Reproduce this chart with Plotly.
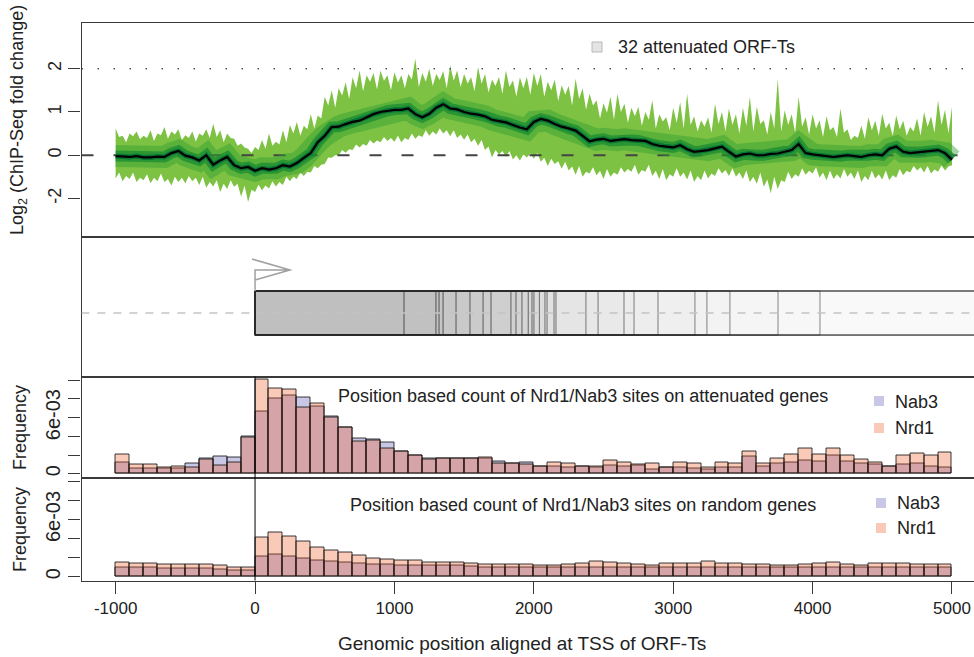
import plotly.graph_objects as go

# ---------------- data ----------------
# ChIP-Seq median profile over 32 attenuated ORF-Ts, every 50 bp
positions = list(range(-1000, 5001, 50))

median_fc = [
    -0.02, -0.03, -0.04, -0.02, -0.05, -0.05, -0.03, -0.04, 0.05, 0.10,
    -0.01, -0.05, -0.12, 0.00, -0.22, -0.12, -0.04, -0.23, -0.30, -0.27,
    -0.36, -0.30, -0.33, -0.30, -0.23, -0.26, -0.18, -0.06, 0.05, 0.30,
    0.45, 0.65, 0.66, 0.72, 0.77, 0.80, 0.88, 0.95, 1.00, 1.03,
    1.05, 1.05, 1.08, 0.95, 0.88, 0.96, 1.10, 1.18, 1.08, 1.06,
    1.00, 0.96, 0.94, 0.90, 0.82, 0.79, 0.76, 0.70, 0.64, 0.60,
    0.77, 0.84, 0.80, 0.72, 0.66, 0.62, 0.57, 0.45, 0.32, 0.36,
    0.38, 0.33, 0.35, 0.37, 0.35, 0.34, 0.33, 0.26, 0.22, 0.20,
    0.18, 0.23, 0.14, 0.08, 0.10, 0.12, 0.16, 0.20, 0.08, -0.03,
    0.02, 0.04, 0.00, 0.00, 0.03, 0.04, 0.08, 0.12, 0.26, 0.05,
    0.02, 0.00, -0.02, -0.04, -0.02, 0.00, -0.02, -0.04, 0.00, 0.02,
    0.00, 0.15, 0.20, 0.08, 0.05, 0.07, 0.08, 0.10, 0.12, 0.05,
    -0.10,
]

# outer envelope of the per-gene spread, every 25 bp
band_positions = list(range(-1000, 5001, 25))

band_upper = [
    0.62, 0.42, 0.45, 0.30, 0.50, 0.44, 0.55, 0.37, 0.45, 0.40,
    0.58, 0.33, 0.50, 0.46, 0.65, 0.38, 0.55, 0.48, 0.60, 0.35,
    0.46, 0.40, 0.55, 0.32, 0.50, 0.45, 0.60, 0.40, 0.73, 0.42,
    0.58, 0.30, 0.50, 0.40, 0.38, 0.22, 0.27, 0.18, 0.15, 0.05,
    0.19, 0.12, 0.35, 0.15, 0.50, 0.22, 0.31, 0.25, 0.58, 0.30,
    0.70, 0.50, 0.77, 0.45, 0.68, 0.60, 0.95, 0.62, 0.92, 0.85,
    1.35, 1.15, 1.50, 1.10, 1.55, 1.38, 1.69, 1.30, 1.80, 1.55,
    1.96, 1.48, 1.85, 1.70, 1.90, 1.52, 1.96, 1.72, 1.85, 1.50,
    1.92, 1.68, 1.85, 1.55, 1.88, 1.75, 2.23, 1.58, 1.90, 1.70,
    2.00, 1.60, 1.88, 1.74, 1.95, 1.55, 2.08, 1.72, 1.96, 1.58,
    1.88, 1.66, 1.80, 1.48, 2.04, 1.65, 1.88, 1.45, 1.75, 1.60,
    1.81, 1.42, 1.96, 1.58, 1.73, 1.36, 1.80, 1.55, 1.81, 1.40,
    1.90, 1.60, 1.88, 1.35, 1.70, 1.50, 1.75, 1.25, 1.62, 1.40,
    1.60, 1.15, 1.77, 1.30, 1.55, 1.05, 1.42, 1.15, 1.27, 0.85,
    1.20, 0.98, 1.35, 0.82, 1.42, 1.00, 1.19, 0.75, 1.10, 0.90,
    1.12, 0.68, 1.00, 0.82, 1.27, 0.62, 0.95, 0.78, 0.88, 0.58,
    1.10, 0.75, 1.23, 0.62, 1.42, 0.70, 0.90, 0.55, 0.81, 0.66,
    0.88, 0.52, 1.19, 0.72, 1.00, 0.55, 1.08, 0.70, 0.95, 0.50,
    1.10, 0.68, 1.35, 0.55, 1.12, 0.72, 0.81, 0.48, 1.00, 0.62,
    1.77, 0.55, 1.04, 0.70, 0.95, 0.52, 1.35, 0.66, 0.88, 0.48,
    0.95, 0.62, 0.81, 0.42, 0.90, 0.58, 0.65, 0.42, 1.08, 0.52,
    0.60, 0.35, 0.45, 0.40, 0.69, 0.38, 0.88, 0.58, 0.80, 0.45,
    0.96, 0.62, 0.75, 0.45, 0.92, 0.60, 0.80, 0.45, 0.65, 0.55,
    0.85, 0.45, 1.00, 0.66, 0.90, 0.52, 1.27, 0.70, 1.05, 0.50,
    1.12,
]

band_lower = [
    -0.54, -0.40, -0.60, -0.48, -0.55, -0.40, -0.62, -0.52, -0.58, -0.44,
    -0.65, -0.52, -0.60, -0.42, -0.62, -0.55, -0.70, -0.50, -0.62, -0.52,
    -0.65, -0.48, -0.60, -0.52, -0.69, -0.50, -0.75, -0.62, -0.72, -0.58,
    -0.85, -0.66, -0.78, -0.58, -0.73, -0.66, -0.96, -0.70, -1.08, -0.80,
    -0.85, -0.68, -0.81, -0.70, -0.77, -0.60, -0.72, -0.62, -0.69, -0.50,
    -0.60, -0.50, -0.55, -0.40, -0.48, -0.38, -0.40, -0.25, -0.30, -0.22,
    -0.20, -0.05, -0.06, 0.00, 0.00, 0.12, 0.06, 0.14, 0.12, 0.25,
    0.18, 0.26, 0.22, 0.35, 0.27, 0.34, 0.30, 0.42, 0.33, 0.40,
    0.31, 0.45, 0.30, 0.40, 0.35, 0.50, 0.38, 0.46, 0.42, 0.58,
    0.45, 0.55, 0.48, 0.62, 0.50, 0.58, 0.44, 0.58, 0.40, 0.48,
    0.36, 0.48, 0.30, 0.38, 0.22, 0.35, 0.12, 0.20, -0.05, 0.12,
    0.02, 0.10, -0.04, 0.10, -0.10, 0.00, -0.12, 0.02, -0.05, 0.04,
    -0.08, 0.05, -0.15, -0.06, -0.25, -0.08, -0.20, -0.14, -0.31, -0.15,
    -0.35, -0.26, -0.45, -0.25, -0.50, -0.38, -0.42, -0.28, -0.46, -0.36,
    -0.55, -0.32, -0.50, -0.40, -0.45, -0.28, -0.40, -0.32, -0.38, -0.22,
    -0.45, -0.34, -0.38, -0.22, -0.48, -0.36, -0.55, -0.32, -0.58, -0.44,
    -0.50, -0.30, -0.50, -0.40, -0.56, -0.35, -0.62, -0.48, -0.58, -0.35,
    -0.54, -0.42, -0.48, -0.30, -0.42, -0.34, -0.48, -0.30, -0.50, -0.40,
    -0.55, -0.35, -0.62, -0.50, -0.66, -0.40, -0.73, -0.56, -0.88, -0.50,
    -0.78, -0.58, -0.62, -0.38, -0.55, -0.44, -0.50, -0.30, -0.45, -0.36,
    -0.42, -0.28, -0.52, -0.40, -0.58, -0.35, -0.55, -0.44, -0.54, -0.32,
    -0.50, -0.40, -0.55, -0.35, -0.62, -0.48, -0.58, -0.36, -0.54, -0.44,
    -0.56, -0.35, -0.58, -0.46, -0.52, -0.32, -0.46, -0.36, -0.40, -0.25,
    -0.35, -0.28, -0.40, -0.25, -0.42, -0.33, -0.38, -0.24, -0.35, -0.26,
    -0.23,
]

# ORF-T end positions (bp from TSS) of the 32 attenuated transcripts
orf_t_ends = [
    1069, 1298, 1320, 1349, 1442, 1542, 1636, 1693, 1836, 1872, 1915,
    1960, 1987, 2001, 2040, 2080, 2095, 2145, 2159, 2374, 2461, 2647,
    2719, 2891, 3156, 3242, 3407, 3752, 4053, 5300, 5600, 6100,
]

# Nrd1 / Nab3 site frequencies in 100 bp bins (units of 1e-3)
bin_starts = list(range(-1000, 5000, 100))
bin_width = 100
freq_unit = 1e-3

att_nab3 = [
    1.20, 0.60, 0.60, 0.60, 0.60, 1.15, 1.60, 1.80, 1.70, 4.00,
    6.70, 8.10, 8.40, 8.20, 7.20, 6.10, 5.00, 3.80, 3.65, 3.30,
    2.40, 2.00, 1.60, 1.60, 1.60, 1.60, 1.65, 1.30, 1.10, 1.25,
    0.80, 0.80, 0.70, 0.75, 0.70, 0.90, 0.80, 0.90, 0.43, 0.70,
    0.70, 0.60, 0.43, 0.70, 0.70, 1.80, 0.80, 1.07, 1.25, 1.40,
    1.30, 1.90, 1.30, 1.07, 1.00, 0.80, 1.00, 1.15, 0.80, 0.70,
]
att_nrd1 = [
    2.10, 1.00, 1.00, 0.70, 0.80, 0.70, 1.50, 0.85, 1.20, 3.90,
    10.10, 9.10, 9.00, 7.10, 7.50, 6.00, 4.95, 3.50, 3.60, 2.75,
    2.35, 1.95, 1.55, 1.60, 1.65, 1.60, 1.70, 1.10, 1.10, 1.00,
    0.80, 1.25, 1.05, 0.80, 0.75, 1.40, 1.25, 1.00, 1.07, 0.70,
    1.20, 1.15, 0.70, 1.20, 1.15, 2.40, 1.07, 1.60, 2.10, 2.65,
    2.10, 2.75, 2.00, 1.50, 1.20, 0.80, 1.90, 2.20, 2.00, 2.30,
]
rnd_nab3 = [
    0.95, 0.95, 0.95, 0.87, 0.87, 0.87, 0.87, 0.80, 0.70, 0.70,
    2.15, 2.35, 2.10, 1.90, 1.75, 1.55, 1.50, 1.35, 1.30, 1.30,
    1.20, 1.20, 1.15, 1.15, 1.15, 1.10, 1.00, 1.00, 0.95, 0.95,
    0.95, 0.95, 0.95, 0.97, 1.00, 1.00, 0.97, 0.95, 0.95, 0.95,
    0.97, 0.97, 1.00, 0.95, 0.95, 0.95, 0.95, 0.93, 0.93, 0.95,
    0.97, 0.97, 0.95, 0.93, 0.95, 0.95, 0.95, 0.95, 0.95, 0.95,
]
rnd_nrd1 = [
    1.50, 1.40, 1.40, 1.30, 1.30, 1.30, 1.30, 1.20, 1.00, 0.95,
    4.10, 4.60, 4.20, 3.65, 3.10, 2.75, 2.50, 2.20, 1.95, 1.80,
    1.65, 1.65, 1.45, 1.50, 1.45, 1.40, 1.30, 1.30, 1.30, 1.30,
    1.22, 1.22, 1.32, 1.39, 1.57, 1.50, 1.39, 1.29, 1.22, 1.39,
    1.39, 1.39, 1.57, 1.36, 1.36, 1.29, 1.29, 1.22, 1.22, 1.29,
    1.39, 1.46, 1.32, 1.22, 1.36, 1.36, 1.36, 1.32, 1.29, 1.29,
]

# tick labels
fc_tick_vals = [2, 1, 0, -1]
fc_tick_text = ["2", "1", "0", "-2"]
freq_tick_vals = [0, 0.006]
freq_tick_text = ["0", "6e-03"]
freq_minor_vals = [0.002, 0.004, 0.008, 0.010]
x_tick_vals = [-1000, 0, 1000, 2000, 3000, 4000, 5000]
x_tick_text = ["-1000", "0", "1000", "2000", "3000", "4000", "5000"]

# ---------------- layout helpers ----------------
W, H = 974, 657
FONT = "Liberation Sans, Arial, Helvetica, sans-serif"
INK = "#222222"
FRAME = "#3a3a3a"


def fx(p):
    return p / W


def fy(p):
    return 1 - p / H


X_DOM = [fx(81.5), 1.0]
X_RANGE = [-1245, 5158]
D_TOP = [fy(237), fy(23.3)]
D_MID = [fy(376.5), fy(237)]
D_H1 = [fy(477.5), fy(376.5)]
D_H2 = [fy(580.5), fy(477.5)]
FREQ_RANGE = [-0.0004, 0.0104]
TSS = 0

fig = go.Figure()

# ---------------- top panel: fold-change band ----------------
fig.add_trace(go.Scatter(
    x=band_positions + band_positions[::-1], y=band_upper + band_lower[::-1],
    fill="toself", fillcolor="#7dc243", line=dict(width=0),
    mode="lines", hoverinfo="skip", showlegend=False, xaxis="x", yaxis="y"))
fig.add_trace(go.Scatter(
    x=X_RANGE, y=[0, 0], mode="lines",
    line=dict(color="#444444", width=2, dash="12px,20px"),
    hoverinfo="skip", showlegend=False, xaxis="x", yaxis="y"))
fig.add_trace(go.Scatter(
    x=X_RANGE, y=[2, 2], mode="lines",
    line=dict(color="#555555", width=1.6, dash="1.5px,14.5px"),
    hoverinfo="skip", showlegend=False, xaxis="x", yaxis="y"))
for color, width in [("rgba(50,160,50,0.45)", 22), ("rgba(25,140,50,0.75)", 11), ("#0a7634", 5)]:
    fig.add_trace(go.Scatter(
        x=positions, y=median_fc, mode="lines",
        line=dict(color=color, width=width),
        hoverinfo="skip", showlegend=False, xaxis="x", yaxis="y"))
fig.add_trace(go.Scatter(
    x=positions, y=median_fc, mode="lines",
    line=dict(color="black", width=2.2),
    hoverinfo="skip", showlegend=False, xaxis="x", yaxis="y"))

# ---------------- histograms ----------------
bin_centers = [s + bin_width / 2 for s in bin_starts]
NAB3_FILL = "rgba(77,77,174,0.31)"
NRD1_FILL = "rgba(239,84,29,0.31)"
BAR_LINE = dict(color="rgba(25,25,25,0.85)", width=1)
for xa, ya, nab3, nrd1 in [("x3", "y3", att_nab3, att_nrd1), ("x4", "y4", rnd_nab3, rnd_nrd1)]:
    fig.add_trace(go.Bar(
        x=bin_centers, y=[v * freq_unit for v in nab3], width=bin_width,
        marker=dict(color=NAB3_FILL, line=BAR_LINE), name="Nab3",
        showlegend=False, xaxis=xa, yaxis=ya))
    fig.add_trace(go.Bar(
        x=bin_centers, y=[v * freq_unit for v in nrd1], width=bin_width,
        marker=dict(color=NRD1_FILL, line=BAR_LINE), name="Nrd1",
        showlegend=False, xaxis=xa, yaxis=ya))

shapes = []

# ---------------- middle panel: ORF-T gene models ----------------
GENE_Y0, GENE_Y1 = 0.297, 0.613
for end in orf_t_ends:
    shapes.append(dict(
        type="rect", xref="x2", yref="y2", x0=TSS, x1=end, y0=GENE_Y0, y1=GENE_Y1,
        fillcolor="rgba(0,0,0,0.0095)", line=dict(color="rgba(45,45,45,0.55)", width=1)))
shapes.append(dict(
    type="line", xref="x2", yref="y2", x0=X_RANGE[0], x1=X_RANGE[1], y0=0.455, y1=0.455,
    line=dict(color="#c4c4c4", width=1.5, dash="8px,8px")))
arrow_y, tip = 0.763, TSS + 251
shapes.append(dict(
    type="path", xref="x2", yref="y2",
    path=(f"M {TSS},{GENE_Y1} L {TSS},{arrow_y} L {tip},{arrow_y} "
          f"M {TSS - 22},0.842 L {tip},{arrow_y} L {TSS},0.692"),
    line=dict(color="#a0a0a0", width=1.5)))

# TSS marker through the histogram panels
shapes.append(dict(type="line", xref="x3", yref="paper", x0=TSS, x1=TSS,
                   y0=D_H2[0], y1=D_H1[1], line=dict(color="black", width=1)))


# legend keys
def key(cx, cy, color, line=None):
    return dict(type="rect", xref="paper", yref="paper",
                x0=fx(cx - 5), x1=fx(cx + 5), y0=fy(cy + 5), y1=fy(cy - 5),
                fillcolor=color, line=line or dict(width=0))


shapes.append(key(597, 47, "#e4e4e4", dict(color="#b8b8b8", width=1)))
shapes.append(key(879, 401, "rgb(200,200,230)"))
shapes.append(key(879, 428, "rgb(250,202,185)"))
shapes.append(key(881, 503, "rgb(200,200,230)"))
shapes.append(key(881, 528, "rgb(250,202,185)"))

annotations = []


def text(x, y, s, size=18, angle=0, xanchor="center"):
    annotations.append(dict(
        x=fx(x), y=fy(y), xref="paper", yref="paper", text=s, showarrow=False,
        textangle=angle, xanchor=xanchor, yanchor="middle",
        font=dict(family=FONT, size=size, color=INK)))


text(18, 120, "Log<sub>2</sub> (ChIP-Seq fold change)", angle=-90)
text(20, 428, "Frequency", angle=-90)
text(20, 530, "Frequency", angle=-90)
text(616, 47, "32 attenuated ORF-Ts", xanchor="left")
text(583, 396, "Position based count of Nrd1/Nab3 sites on attenuated genes")
text(583, 505, "Position based count of Nrd1/Nab3 sites on random genes")
text(893, 402, "Nab3", xanchor="left")
text(893, 428, "Nrd1", xanchor="left")
text(895, 503, "Nab3", xanchor="left")
text(895, 528, "Nrd1", xanchor="left")
text(522, 643, "Genomic position aligned at TSS of ORF-Ts", size=19)

# ---------------- axes ----------------
xbase = dict(domain=X_DOM, range=X_RANGE, showgrid=False, zeroline=False,
             showline=True, mirror=True, linecolor=FRAME, linewidth=1.2,
             showticklabels=False, ticks="")
ybase = dict(showgrid=False, zeroline=False, showline=True, mirror=False,
             linecolor=FRAME, linewidth=1.2, ticks="outside", ticklen=12,
             tickwidth=1.3, tickcolor=FRAME, tickangle=-90,
             tickfont=dict(family=FONT, size=18, color=INK))
freq_axis = dict(ybase, range=FREQ_RANGE, tickvals=freq_tick_vals,
                 ticktext=freq_tick_text,
                 tickfont=dict(family=FONT, size=20, color=INK),
                 minor=dict(tickvals=freq_minor_vals, ticks="outside", ticklen=12,
                            tickwidth=1.3, tickcolor=FRAME, showgrid=False))

fig.update_layout(
    width=W, height=H, autosize=False,
    margin=dict(l=0, r=0, t=0, b=0),
    paper_bgcolor="white", plot_bgcolor="white",
    barmode="overlay", bargap=0,
    shapes=shapes, annotations=annotations,
    xaxis=dict(xbase, anchor="y"),
    xaxis2=dict(xbase, anchor="y2", matches="x"),
    xaxis3=dict(xbase, anchor="y3", matches="x"),
    xaxis4=dict(xbase, anchor="y4", matches="x", showticklabels=True,
                ticks="outside", ticklen=12, tickwidth=1.3, tickcolor=FRAME,
                tickvals=x_tick_vals, ticktext=x_tick_text,
                tickfont=dict(family=FONT, size=17, color=INK)),
    yaxis=dict(ybase, domain=D_TOP, range=[-1.89, 3.05], anchor="x",
               tickvals=fc_tick_vals, ticktext=fc_tick_text),
    yaxis2=dict(ybase, domain=D_MID, range=[0, 1], anchor="x2",
                ticks="", showticklabels=False),
    yaxis3=dict(freq_axis, domain=D_H1, anchor="x3"),
    yaxis4=dict(freq_axis, domain=D_H2, anchor="x4"),
)

fig.write_html("out.html")
